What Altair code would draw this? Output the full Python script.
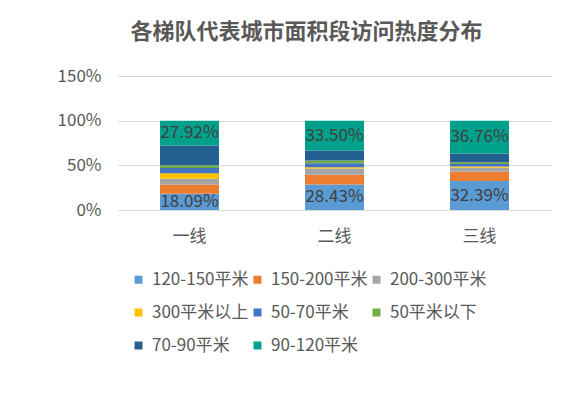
import altair as alt
import pandas as pd

tiers = ["一线", "二线", "三线"]
segments = ["120-150平米", "150-200平米", "200-300平米", "300平米以上",
            "50-70平米", "50平米以下", "70-90平米", "90-120平米"]
colors = ["#5B9BD5", "#ED7D31", "#A5A5A5", "#FFC000",
          "#4472C4", "#70AD47", "#255E91", "#00A08A"]
tier1 = [18.09, 10.5, 6.5, 6.0, 6.0, 3.0, 21.99, 27.92]
tier2 = [28.43, 10.9, 7.1, 1.5, 4.5, 3.0, 11.07, 33.50]
tier3 = [32.39, 10.5, 4.5, 1.2, 3.0, 1.9, 9.75, 36.76]
labeled = ["120-150平米", "90-120平米"]

rows = []
for t, vals in zip(tiers, [tier1, tier2, tier3]):
    for i, (s, v) in enumerate(zip(segments, vals)):
        rows.append({"tier": t, "seg": s, "val": v, "idx": i,
                     "lab": f"{v:.2f}%" if s in labeled else ""})
df = pd.DataFrame(rows)

FONT = "Noto Sans CJK SC"

base = alt.Chart(df).transform_stack(
    stack="val", groupby=["tier"], as_=["y0", "y1"], sort=[alt.SortField("idx", "ascending")]
).transform_calculate(mid="(datum.y0 + datum.y1) / 2")

x = alt.X("tier:N", sort=tiers, title=None,
          scale=alt.Scale(paddingInner=0, paddingOuter=0),
          axis=alt.Axis(labelAngle=0, ticks=False, domain=False, labelFontSize=17,
                        labelColor="#595959", labelFont=FONT, labelPadding=18))

bars = base.mark_bar(size=59).encode(
    x=x,
    y=alt.Y("y0:Q", scale=alt.Scale(domain=[0, 150], nice=False), title=None,
            axis=alt.Axis(values=[0, 50, 100, 150], labelExpr="datum.value + '%'",
                          ticks=False, domain=False, gridColor="#D9D9D9",
                          labelFontSize=17, labelColor="#595959", labelFont=FONT,
                          labelPadding=16)),
    y2="y1:Q",
    color=alt.Color("seg:N", sort=segments,
                    scale=alt.Scale(domain=segments, range=colors),
                    legend=alt.Legend(title=None, orient="none", legendX=13, legendY=195,
                                      columns=3, direction="horizontal",
                                      symbolType="square", symbolSize=64,
                                      labelFontSize=17, labelColor="#595959", labelFont=FONT,
                                      columnPadding=-3, rowPadding=15, symbolStrokeWidth=0,
                                      labelOffset=5, labelLimit=200)),
)

texts = base.transform_filter("datum.lab != ''").mark_text(
    fontSize=17, color="#404040", font=FONT
).encode(x=x, y=alt.Y("mid:Q"), text="lab:N")

chart = alt.layer(bars, texts).properties(
    width=435, height=134,
    title=alt.TitleParams("各梯队代表城市面积段访问热度分布", fontSize=22, fontWeight="bold",
                          color="#595959", font=FONT, offset=23, dx=-28),
    autosize=alt.AutoSizeParams(type="none"),
    padding={"left": 109, "top": 68, "right": 8, "bottom": 170},
).configure_view(stroke=None)

chart.save("out.html", embed_options={"renderer": "svg", "actions": False})
